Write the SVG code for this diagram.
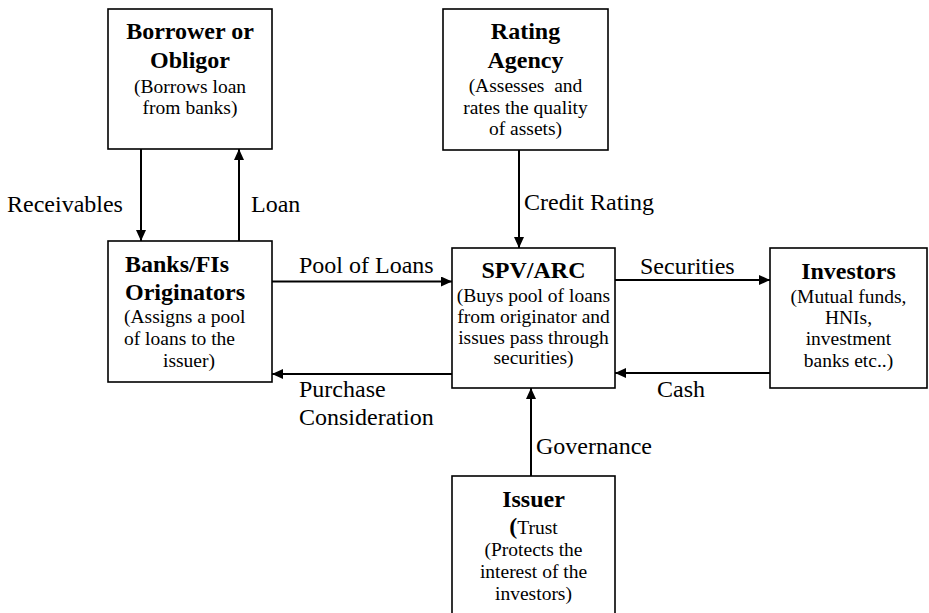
<svg xmlns="http://www.w3.org/2000/svg" width="929" height="613" viewBox="0 0 929 613">
<style>
.box{fill:#fff;stroke:#000;stroke-width:1.6}
.h{font-family:"Liberation Serif","Times New Roman",serif;font-weight:bold;font-size:24px;fill:#000}
.t{font-family:"Liberation Serif","Times New Roman",serif;font-size:19.5px;fill:#000}
.l{font-family:"Liberation Serif","Times New Roman",serif;font-size:24px;fill:#000}
.c{text-anchor:middle}
.e{fill:none;stroke:#000;stroke-width:2;marker-end:url(#ah)}
</style>
<defs>
<marker id="ah" markerUnits="userSpaceOnUse" markerWidth="11" markerHeight="10" refX="11" refY="5" orient="auto">
<path d="M0,0 L11,5 L0,10 z" fill="#000"/>
</marker>
</defs>
<rect width="929" height="613" fill="#fff"/>
<g id="connectors">
<path class="e" d="M141,149 V241"/>
<path class="e" d="M239,241 V149"/>
<path class="e" d="M519,150 V248"/>
<path class="e" d="M272,281.5 H452"/>
<path class="e" d="M452,374 H272"/>
<path class="e" d="M615,280 H770"/>
<path class="e" d="M770,373 H615"/>
<path class="e" d="M531,476 V388"/>
<text class="l" x="7" y="212">Receivables</text>
<text class="l" x="251" y="212">Loan</text>
<text class="l" x="524" y="210">Credit Rating</text>
<text class="l" x="299" y="273">Pool of Loans</text>
<text class="l" x="299" y="397">Purchase</text>
<text class="l" x="299" y="425">Consideration</text>
<text class="l" x="640" y="274">Securities</text>
<text class="l" x="657" y="397">Cash</text>
<text class="l" x="536" y="454">Governance</text>
</g>
<g id="borrower">
<rect class="box" x="108" y="9" width="164" height="140"/>
<text class="h c" x="190" y="39">Borrower or</text>
<text class="h c" x="190" y="68">Obligor</text>
<text class="t c" x="190" y="93">(Borrows loan</text>
<text class="t c" x="190" y="114">from banks)</text>
</g>
<g id="rating">
<rect class="box" x="443" y="9" width="165" height="141"/>
<text class="h c" x="525.5" y="39">Rating</text>
<text class="h c" x="525.5" y="68">Agency</text>
<text class="t c" x="525.5" y="92" style="white-space:pre">(Assesses  and</text>
<text class="t c" x="525.5" y="114">rates the quality</text>
<text class="t c" x="525.5" y="135">of assets)</text>
</g>
<g id="banks">
<rect class="box" x="108" y="241" width="164" height="141"/>
<text class="h" x="125" y="272">Banks/FIs</text>
<text class="h" x="125" y="300">Originators</text>
<text class="t" x="124" y="323">(Assigns a pool</text>
<text class="t" x="124" y="345">of loans to the</text>
<text class="t c" x="189" y="367">issuer)</text>
</g>
<g id="spv">
<rect class="box" x="452" y="248" width="163" height="140"/>
<text class="h c" x="533.5" y="278">SPV/ARC</text>
<text class="t c" x="533.5" y="301.5">(Buys pool of loans</text>
<text class="t c" x="533.5" y="322.5">from originator and</text>
<text class="t c" x="533.5" y="343.5">issues pass through</text>
<text class="t c" x="533.5" y="364">securities)</text>
</g>
<g id="investors">
<rect class="box" x="770" y="248" width="157" height="140"/>
<text class="h c" x="848.5" y="279">Investors</text>
<text class="t c" x="848.5" y="303">(Mutual funds,</text>
<text class="t c" x="848.5" y="324">HNIs,</text>
<text class="t c" x="848.5" y="345">investment</text>
<text class="t c" x="848.5" y="367">banks etc..)</text>
</g>
<g id="issuer">
<rect class="box" x="452" y="476" width="163" height="150"/>
<text class="h c" x="533.5" y="506.5">Issuer</text>
<text class="t c" x="533.5" y="534"><tspan font-weight="bold" font-size="24px">(</tspan>Trust</text>
<text class="t c" x="533.5" y="556">(Protects the</text>
<text class="t c" x="533.5" y="578">interest of the</text>
<text class="t c" x="533.5" y="600">investors)</text>
</g>
</svg>
